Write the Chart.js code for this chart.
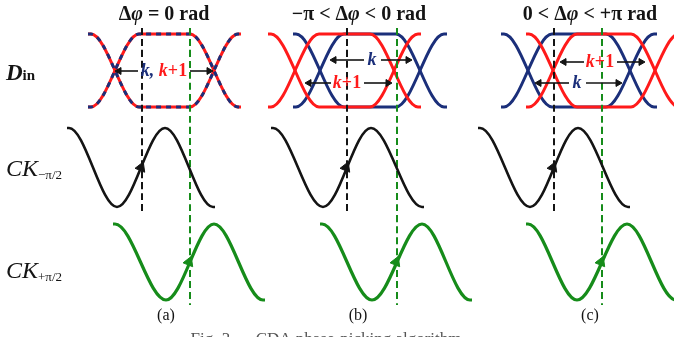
<!DOCTYPE html>
<html>
<head>
<meta charset="utf-8">
<script src="https://cdn.jsdelivr.net/npm/chart.js@4.4.0/dist/chart.umd.min.js"></script>
<style>
  html, body { margin: 0; padding: 0; background: #fff; }
  #wrap { width: 674px; height: 337px; }
</style>
</head>
<body>
<div id="wrap"><canvas id="chart" width="674" height="337"></canvas></div>
<script>
// panel names and titles
const panelNames = ["(a)", "(b)", "(c)"];
const panelNameX = [166, 358, 590];
const titleX = [164, 359, 590];

// eye diagram: top / bottom level and half width of one transition
const eyeLevels = [34, 107];
const eyeHalf = 24;
// crossing points of every eye, one pair per panel
const blueEyes = [[115, 214], [320, 420], [528, 630]];
const redEyes = [[115, 214], [295, 394], [553, 655]];

// clocks: x of the peaks and troughs, then y of peak and trough
const ckMinusX = [[69, 117, 165, 213], [273, 323, 371, 422], [480, 530, 578, 628]];
const ckMinusY = [128, 207];
const ckPlusX = [[115, 166, 214, 263], [322, 372, 422, 470], [528, 577, 627, 676]];
const ckPlusY = [224, 300];

// sampling instants (dashed lines)
const blackLineX = [142, 347, 554];
const blackLineY = [28, 212];
const greenLineX = [190, 397, 602];
const greenLineY = [28, 305];

// horizontal arrows in the eyes: y, left tip, right tip, gap left, gap right
const eyeArrows = [
  [71, 115, 213, 138, 190],
  [60, 330, 412, 364, 381],
  [83, 305, 392, 331, 364],
  [62, 560, 645, 584, 617],
  [83, 535, 622, 569, 586],
];

const RED = "#ff1a1a";
const BLUE = "#1b2f7a";
const GREEN = "#168c1a";
const BLACK = "#141414";
const SERIF = '"Liberation Serif", "Times New Roman", serif';

// build one eye as two traces
function eyeTraces([x1, x2]) {
  const [T, B] = eyeLevels;
  const w = eyeHalf;
  const up = [
    { x: x1 - w - 3, y: B }, { x: x1 - w, y: B }, { x: x1 + w, y: T },
    { x: x2 - w, y: T }, { x: x2 + w, y: B }, { x: x2 + w + 3, y: B },
  ];
  const down = up.map((p) => ({ x: p.x, y: p.y === T ? B : T }));
  return [up, down];
}

// peaks and troughs, with a short flat piece at both ends
function clockPoints(xs, [peak, trough]) {
  const pts = xs.map((x, i) => ({ x: x, y: i % 2 === 0 ? peak : trough }));
  const first = pts[0];
  const last = pts[pts.length - 1];
  return [{ x: first.x - 2, y: first.y }, ...pts, { x: last.x + 2, y: last.y }];
}

function lineSet(data, color, width, order, dash) {
  return {
    data: data,
    showLine: true,
    borderColor: color,
    borderWidth: width,
    borderDash: dash || [],
    pointRadius: 0,
    cubicInterpolationMode: "monotone",
    order: order,
    clip: false,
  };
}

const datasets = [];

// eyes
blueEyes.forEach((eye, i) => {
  eyeTraces(eye).forEach((tr) => {
    if (i === 0) {
      datasets.push(lineSet(tr, RED, 3, 6));
      datasets.push(lineSet(tr, BLUE, 3, 5, [5, 5]));
    } else {
      datasets.push(lineSet(tr, BLUE, 3, 6));
    }
  });
});
redEyes.forEach((eye, i) => {
  if (i === 0) return;
  eyeTraces(eye).forEach((tr) => datasets.push(lineSet(tr, RED, 3, 5)));
});

// sampling lines
blackLineX.forEach((x) => {
  datasets.push(lineSet([{ x: x, y: blackLineY[0] }, { x: x, y: blackLineY[1] }], BLACK, 2, 4, [7, 4]));
});
greenLineX.forEach((x) => {
  datasets.push(lineSet([{ x: x, y: greenLineY[0] }, { x: x, y: greenLineY[1] }], GREEN, 2, 4, [7, 4]));
});

// clocks
ckMinusX.forEach((xs) => datasets.push(lineSet(clockPoints(xs, ckMinusY), BLACK, 2.6, 3)));
ckPlusX.forEach((xs) => datasets.push(lineSet(clockPoints(xs, ckPlusY), GREEN, 3.2, 3)));

// rising edge markers on the clocks
const ckMid = (ckMinusY[0] + ckMinusY[1]) / 2;
const ckPlusMid = (ckPlusY[0] + ckPlusY[1]) / 2;
datasets.push({
  data: blackLineX.map((x) => ({ x: x - 1, y: ckMid })),
  pointStyle: "triangle", pointRadius: 6, pointRotation: 22,
  backgroundColor: BLACK, borderColor: BLACK, borderWidth: 1, order: 1,
});
datasets.push({
  data: greenLineX.map((x) => ({ x: x - 1, y: ckPlusMid })),
  pointStyle: "triangle", pointRadius: 6, pointRotation: 22,
  backgroundColor: GREEN, borderColor: GREEN, borderWidth: 1, order: 1,
});

// eye arrows
const headR = 4;
eyeArrows.forEach(([y, l, r, gl, gr]) => {
  datasets.push(lineSet([{ x: l + 2, y: y }, { x: gl, y: y }], BLACK, 1.6, 2));
  datasets.push(lineSet([{ x: gr, y: y }, { x: r - 2, y: y }], BLACK, 1.6, 2));
  datasets.push({
    data: [{ x: l + headR, y: y }, { x: r - headR, y: y }],
    pointStyle: "triangle", pointRadius: headR, pointRotation: [270, 90],
    backgroundColor: BLACK, borderColor: BLACK, borderWidth: 1, order: 1,
  });
});

// texts
function drawParts(ctx, parts, x, y, align) {
  let total = 0;
  parts.forEach((p) => {
    ctx.font = p.font;
    p.w = ctx.measureText(p.text).width;
    total += p.w;
  });
  let cx = align === "center" ? x - total / 2 : x;
  parts.forEach((p) => {
    ctx.font = p.font;
    ctx.fillStyle = p.color || BLACK;
    ctx.fillText(p.text, cx, y + (p.dy || 0));
    cx += p.w;
  });
}

const titleFont = "bold 20px " + SERIF;
const titleItal = "italic bold 20px " + SERIF;
const titleParts = [
  [{ text: "Δ", font: titleFont }, { text: "φ", font: titleItal }, { text: " = 0 rad", font: titleFont }],
  [{ text: "−π < Δ", font: titleFont }, { text: "φ", font: titleItal }, { text: " < 0 rad", font: titleFont }],
  [{ text: "0 < Δ", font: titleFont }, { text: "φ", font: titleItal }, { text: " < +π rad", font: titleFont }],
];

const kFont = "italic bold 18px " + SERIF;
const kLabels = [
  [[{ text: "k", font: kFont, color: BLUE }, { text: ", ", font: kFont, color: BLUE },
    { text: "k", font: kFont, color: RED }, { text: "+1", font: "bold 18px " + SERIF, color: RED }], 164, 71],
  [[{ text: "k", font: kFont, color: BLUE }], 372, 60],
  [[{ text: "k", font: kFont, color: RED }, { text: "+1", font: "bold 18px " + SERIF, color: RED }], 347, 83],
  [[{ text: "k", font: kFont, color: RED }, { text: "+1", font: "bold 18px " + SERIF, color: RED }], 600, 62],
  [[{ text: "k", font: kFont, color: BLUE }], 577, 83],
];

const textPlugin = {
  id: "texts",
  afterDatasetsDraw(chart) {
    const ctx = chart.ctx;
    ctx.save();
    ctx.textBaseline = "alphabetic";
    titleParts.forEach((parts, i) => drawParts(ctx, parts, titleX[i], 20, "center"));

    // row labels
    drawParts(ctx, [
      { text: "D", font: "italic bold 23px " + SERIF },
      { text: "in", font: "bold 15px " + SERIF },
    ], 6, 80, "left");
    drawParts(ctx, [
      { text: "CK", font: "italic 24px " + SERIF },
      { text: "−π/2", font: "13px " + SERIF, dy: 3 },
    ], 6, 176, "left");
    drawParts(ctx, [
      { text: "CK", font: "italic 24px " + SERIF },
      { text: "+π/2", font: "13px " + SERIF, dy: 3 },
    ], 6, 278, "left");

    ctx.textBaseline = "middle";
    kLabels.forEach(([parts, x, y]) => drawParts(ctx, parts, x, y, "center"));

    ctx.textBaseline = "alphabetic";
    panelNames.forEach((n, i) => drawParts(ctx, [{ text: n, font: "16px " + SERIF }], panelNameX[i], 320, "center"));
    drawParts(ctx, [{ text: "Fig. 3.     CDA phase-picking algorithm", font: "17px " + SERIF, color: "#555" }], 326, 344, "center");
    ctx.restore();
  },
};

new Chart(document.getElementById("chart"), {
  type: "scatter",
  data: { datasets: datasets },
  options: {
    responsive: false,
    animation: false,
    events: [],
    layout: { padding: 0, autoPadding: false },
    scales: {
      x: { type: "linear", min: 0, max: 674, display: false },
      y: { type: "linear", min: 0, max: 337, reverse: true, display: false },
    },
    plugins: { legend: { display: false }, tooltip: { enabled: false } },
  },
  plugins: [textPlugin],
});
</script>
</body>
</html>
